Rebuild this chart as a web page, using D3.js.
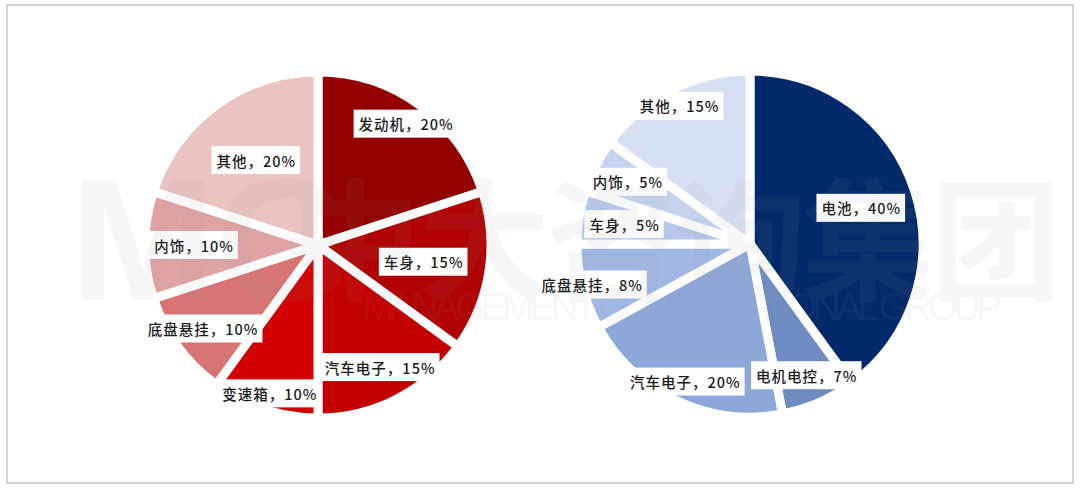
<!DOCTYPE html>
<html><head><meta charset="utf-8">
<script src="https://cdn.jsdelivr.net/npm/d3@7/dist/d3.min.js"></script>
<style>
html,body{margin:0;padding:0;background:#fff;}
svg{display:block;}
</style></head>
<body>
<svg id="chart" width="1080" height="494"></svg>
<script>
// ---- data ----
const leftCategories = ["发动机","车身","汽车电子","变速箱","底盘悬挂","内饰","其他"];
const leftValues = [20, 15, 15, 10, 10, 10, 20];
const leftColors = ["#930000","#b00202","#c30000","#d20000","#d87474","#e0a3a3","#eac3c3"];
const leftLabelRadius = [150, 107, 137, 156, 142, 124, 105];

const rightCategories = ["电池","电机电控","汽车电子","底盘悬挂","车身","内饰","其他"];
const rightValues = [40, 7, 20, 8, 5, 5, 15];
const rightColors = ["#022a6b","#6f8cc2","#8ca7d8","#a1b8e4","#b7c8ea","#c6d3ee","#d7e0f2"];
const rightLabelRadius = [117, 143, 152, 163, 127, 137, 155];

const svg = d3.select("#chart");

// frame
svg.append("rect").attr("x",7).attr("y",5).attr("width",1066).attr("height",478)
  .attr("fill","#fff").attr("stroke","#d4d4d4").attr("stroke-width",2);

function drawPie(cx, cy, r, cats, vals, colors, labelR) {
  const g = svg.append("g").attr("transform", `translate(${cx},${cy})`);
  const pie = d3.pie().sort(null).value(d => d)(vals);
  const arc = d3.arc().innerRadius(0).outerRadius(r);
  g.selectAll("path.slice").data(pie).join("path")
    .attr("class","slice")
    .attr("d", arc)
    .attr("fill", (d,i) => colors[i])
    .attr("stroke", "#fff")
    .attr("stroke-width", 9)
    .attr("stroke-linejoin", "miter");
  return {g, pie};
}

function drawLabels(gobj, cats, vals, labelR) {
  const {g, pie} = gobj;
  pie.forEach((d,i) => {
    const a = (d.startAngle + d.endAngle)/2;
    const x = Math.sin(a) * labelR[i];
    const y = -Math.cos(a) * labelR[i];
    const lg = g.append("g").attr("transform", `translate(${x},${y})`);
    const t = lg.append("text")
      .attr("text-anchor","middle")
      .attr("dominant-baseline","central")
      .attr("font-family","'Noto Sans CJK SC','Noto Sans',sans-serif")
      .attr("font-size",14.5)
      .attr("font-weight",500)
      .attr("letter-spacing",1)
      .attr("fill","#1a1a1a")
      .text(cats[i] + "，" + vals[i] + "%");
    const bb = t.node().getBBox();
    lg.insert("rect","text")
      .attr("x", bb.x - 5).attr("y", -14)
      .attr("width", bb.width + 9).attr("height", 28)
      .attr("fill","#fff");
  });
}

const L = drawPie(318, 245, 173, leftCategories, leftValues, leftColors, leftLabelRadius);
const R = drawPie(750, 244, 173, rightCategories, rightValues, rightColors, rightLabelRadius);

// watermark (faint)
const wm = svg.append("g").attr("pointer-events","none").attr("opacity",0.07).attr("fill","#9a9a9a");
wm.append("text").attr("x",70).attr("y",300).attr("font-family","'Liberation Sans',Arial,sans-serif")
  .attr("font-weight",700).attr("font-size",175).text("MG");
wm.append("text").attr("x",290).attr("y",290).attr("font-family","'Noto Sans CJK SC',sans-serif")
  .attr("font-weight",700).attr("font-size",132).attr("letter-spacing",-4).text("中大咨询集团");
wm.append("text").attr("x",362).attr("y",320).attr("font-family","'Liberation Sans',Arial,sans-serif")
  .attr("font-size",39).attr("textLength",640).text("MANAGEMENT CONSULTATIONAL GROUP");

drawLabels(L, leftCategories, leftValues, leftLabelRadius);
drawLabels(R, rightCategories, rightValues, rightLabelRadius);
</script>
</body></html>
